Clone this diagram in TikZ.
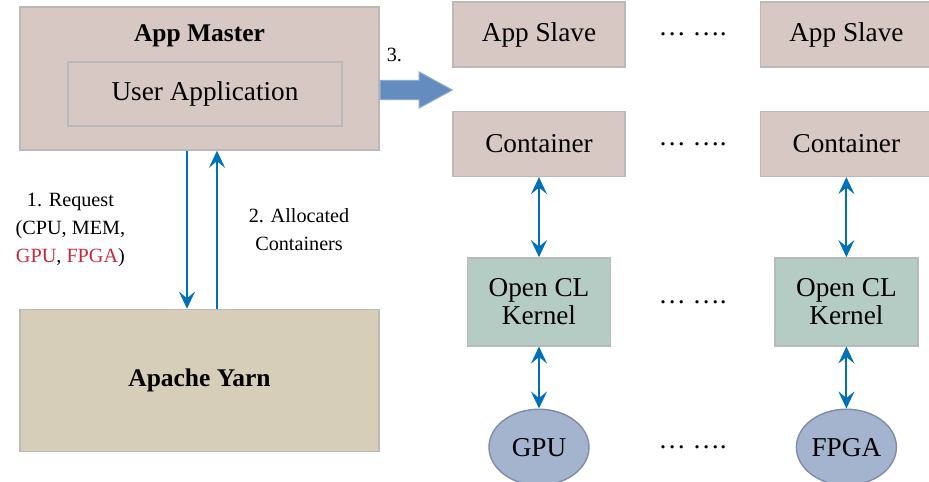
\documentclass[tikz,border=0pt]{standalone}
\usepackage{fontspec}
\setmainfont{Liberation Serif}
\usetikzlibrary{positioning, arrows.meta, shapes.geometric, shapes.arrows, calc}

\definecolor{boxfill}{RGB}{216,200,196}
\definecolor{yarnfill}{RGB}{214,206,184}
\definecolor{kernfill}{RGB}{180,204,196}
\definecolor{devfill}{RGB}{165,180,206}
\definecolor{devdraw}{RGB}{125,140,170}
\definecolor{linkblue}{RGB}{0,112,186}
\definecolor{fatblue}{RGB}{100,140,190}
\definecolor{reqred}{RGB}{200,40,60}

\begin{document}
\begin{tikzpicture}[node distance=0.86cm and 2.68cm,
    every node/.style={font=\fontsize{15.5}{18}\selectfont},
    box/.style={rectangle, draw=gray!55, line width=0.8pt, fill=boxfill, minimum width=3.44cm, minimum height=1.3cm, align=center},
    kernel/.style={box, fill=kernfill, minimum width=2.86cm, minimum height=1.76cm},
    device/.style={ellipse, draw=devdraw, line width=0.8pt, fill=devfill, minimum width=2cm, minimum height=1.52cm, inner sep=0pt},
    link/.style={-{Stealth[length=3.4mm, width=3.2mm, inset=1.3mm]}, line width=1.1pt, draw=linkblue},
    both/.style={{Stealth[length=3.4mm, width=3.2mm, inset=1.3mm]}-{Stealth[length=3.4mm, width=3.2mm, inset=1.3mm]}, line width=1.1pt, draw=linkblue},
    lbl/.style={font=\fontsize{11.5}{16}\selectfont, align=center}]

  \useasboundingbox (0,0) rectangle (18.58,-9.64);

  % left side
  \node[box, minimum width=7.18cm, minimum height=2.86cm] (master) at (3.99,-1.57) {};
  \node[font=\fontsize{14.5}{17}\selectfont\bfseries] (mtitle) at ([yshift=-0.6cm]master.north) {App Master};
  \node[box, minimum width=5.48cm, minimum height=1.28cm] (userapp) at (4.10,-1.88) {User Application};
  \node[box, fill=yarnfill, minimum width=7.18cm, minimum height=2.84cm, below=3.16cm of master, font=\fontsize{14.5}{17}\selectfont\bfseries] (yarn) {Apache Yarn};

  \draw[link] ([xshift=-0.25cm]master.south) -- node[lbl, left=1.1cm] (req) {1. Request\\(CPU, MEM,\\\textcolor{reqred}{GPU}, \textcolor{reqred}{FPGA})} ([xshift=-0.25cm]yarn.north);
  \draw[link] ([xshift=0.35cm]yarn.north) -- node[lbl, right=0.5cm] (alloc) {2. Allocated\\Containers} ([xshift=0.35cm]master.south);

  \node[single arrow, draw=fatblue!75!white, line width=0.6pt, fill=fatblue, minimum height=1.44cm,
        inner xsep=0pt, inner ysep=0.18cm, single arrow head extend=0.17cm, single arrow tip angle=57, anchor=tail] (fat) at ([yshift=-0.23cm]master.east) {};
  \node[lbl] (step3) at ([shift={(-0.26cm,0.7cm)}]fat.center) {3.};

  % right side
  \node[box] (slave1) at (10.78,-0.69) {App Slave};
  \node[box, right=of slave1] (slave2) {App Slave};
  \node[box, below=of slave1] (cont1) {Container};
  \node[box, below=of slave2] (cont2) {Container};
  \node[kernel, below=1.6cm of cont1] (kern1) {Open CL\\[-2pt]Kernel};
  \node[kernel, below=1.6cm of cont2] (kern2) {Open CL\\[-2pt]Kernel};
  \node[device, below=1.24cm of kern1] (gpu) {GPU};
  \node[device, below=1.24cm of kern2] (fpga) {FPGA};

  \node (dots1) at ($(slave1)!0.5!(slave2)$) {… ….};
  \node (dots2) at ($(cont1)!0.5!(cont2)$) {… ….};
  \node (dots3) at ($(kern1)!0.5!(kern2)$) {… ….};
  \node (dots4) at ($(gpu)!0.5!(fpga)$) {… ….};

  \draw[both] (cont1) -- (kern1);
  \draw[both] (cont2) -- (kern2);
  \draw[both] (kern1) -- (gpu);
  \draw[both] (kern2) -- (fpga);
\end{tikzpicture}
\end{document}
